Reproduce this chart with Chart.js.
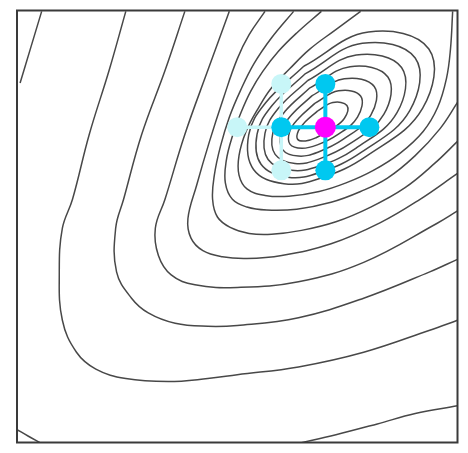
<!DOCTYPE html>
<html>
<head>
<meta charset="utf-8">
<script src="https://cdn.jsdelivr.net/npm/chart.js@4/dist/chart.umd.min.js"></script>
<style>
  html, body { margin: 0; padding: 0; background: #fff; }
  canvas { display: block; }
</style>
</head>
<body>
<canvas id="searchgraph" width="468" height="453"></canvas>
<script>
// level curves, plot space is 0..10 on both axes
const ring1 = [[6.82,7.67],[6.55,7.43],[6.39,7.22],[6.37,7.02],[6.55,6.98],[6.80,7.06],[7.12,7.24],[7.43,7.50],[7.49,7.80],[7.17,7.87],[6.82,7.67]];
const ring2 = [[6.76,7.85],[6.39,7.50],[6.19,7.20],[6.20,6.90],[6.47,6.81],[6.82,6.89],[7.27,7.12],[7.73,7.53],[7.80,8.02],[7.30,8.14],[6.76,7.85]];
const ring3 = [[6.70,8.03],[6.23,7.58],[6.00,7.19],[6.03,6.78],[6.39,6.63],[6.83,6.72],[7.41,7.02],[8.03,7.57],[8.11,8.24],[7.43,8.42],[6.70,8.03]];
const ring4 = [[6.65,8.21],[6.08,7.66],[5.81,7.18],[5.86,6.67],[6.31,6.46],[6.85,6.56],[7.55,6.91],[8.33,7.60],[8.42,8.46],[7.56,8.70],[6.65,8.21]];
const ring5 = [[6.60,8.38],[5.93,7.73],[5.63,7.16],[5.70,6.55],[6.23,6.30],[6.86,6.40],[7.69,6.81],[8.63,7.64],[8.73,8.68],[7.70,8.97],[6.60,8.38]];
const ring6 = [[6.55,8.54],[5.79,7.80],[5.45,7.14],[5.54,6.44],[6.15,6.14],[6.87,6.25],[7.82,6.72],[8.92,7.69],[9.04,8.90],[7.84,9.24],[6.55,8.54]];
const ring7 = [[6.51,8.71],[5.64,7.86],[5.26,7.12],[5.37,6.32],[6.06,5.99],[6.87,6.11],[7.95,6.64],[9.21,7.74],[9.35,9.11],[7.98,9.50],[6.51,8.71]];

const arcG = [[7.80,9.98],[7.20,9.53],[6.64,9.10],[6.19,8.65],[5.78,8.21],[5.49,7.76],[5.20,7.20],[5.04,6.64],[5.04,6.19],[5.22,5.87],[5.63,5.72],[6.17,5.70],[6.86,5.81],[7.47,6.01],[8.09,6.30],[8.70,6.70],[9.22,7.20],[9.55,7.76],[9.75,8.43],[9.84,9.10],[9.89,9.98]];
const arcF = [[6.91,9.98],[6.35,9.48],[5.94,9.06],[5.58,8.59],[5.31,8.14],[5.09,7.65],[4.89,7.09],[4.75,6.52],[4.73,6.01],[4.89,5.63],[5.22,5.45],[5.67,5.38],[6.35,5.40],[7.13,5.56],[7.80,5.81],[8.41,6.12],[9.04,6.64],[9.60,7.26],[10.0,7.87]];
const arcE = [[6.28,9.98],[5.78,9.37],[5.38,8.77],[5.07,8.14],[4.82,7.53],[4.62,6.86],[4.48,6.19],[4.44,5.63],[4.55,5.22],[4.84,4.98],[5.27,4.84],[5.78,4.82],[6.46,4.91],[7.24,5.11],[8.03,5.45],[8.81,5.90],[9.48,6.46],[10.0,6.97]];
const arcD = [[5.63,9.98],[5.27,9.44],[5.00,8.88],[4.69,7.98],[4.37,6.97],[4.08,5.96],[3.88,5.18],[3.95,4.73],[4.22,4.44],[4.66,4.30],[5.22,4.26],[6.01,4.33],[7.13,4.60],[8.25,5.09],[9.15,5.63],[10.0,6.23]];
const arcC = [[4.82,9.98],[4.33,8.61],[3.81,7.13],[3.36,5.63],[3.14,4.96],[3.21,4.33],[3.50,3.88],[4.04,3.65],[5.00,3.59],[6.39,3.72],[7.87,4.17],[9.53,5.07],[10.0,5.36]];
const arcB = [[3.81,9.98],[3.36,8.61],[2.83,7.13],[2.42,5.63],[2.24,4.96],[2.26,3.95],[2.60,3.34],[2.98,3.00],[3.59,2.76],[4.33,2.69],[5.00,2.71],[6.39,2.89],[7.87,3.34],[9.37,3.95],[10.0,4.24]];
const arcA = [[2.47,9.98],[2.09,8.61],[1.64,7.13],[1.26,5.63],[1.03,4.96],[0.96,3.95],[1.03,2.83],[1.35,2.09],[1.79,1.70],[2.47,1.48],[3.43,1.41],[4.33,1.48],[5.00,1.57],[6.39,1.75],[7.87,2.09],[9.37,2.60],[10.0,2.83]];
const cornerTopLeft = [[0.56,9.98],[0.30,9.10],[0.07,8.32]];
const cornerBottomLeft = [[0.00,0.30],[0.25,0.15],[0.55,-0.02]];
const cornerBottomRight = [[6.39,-0.02],[7.24,0.18],[8.18,0.43],[9.04,0.67],[10.0,0.85]];

// search pattern: current base point, its four probes, and the previous probes
const basePoint = [[7, 7.3]];
const probes = [[7, 8.3], [8, 7.3], [7, 6.3], [6, 7.3]];
const oldProbes = [[6, 8.3], [5, 7.3], [6, 6.3]];

const contours = [ring1, ring2, ring3, ring4, ring5, ring6, ring7,
    arcG, arcF, arcE, arcD, arcC, arcB, arcA,
    cornerTopLeft, cornerBottomLeft, cornerBottomRight];

const toXY = (list) => list.map(([x, y]) => ({ x: x, y: y }));

const blue = "rgb(0,200,240)";
const paleBlue = "rgb(200,246,248)";

const datasets = contours.map((c) => ({
    data: toXY(c),
    showLine: true,
    borderColor: "rgba(40,40,40,0.85)",
    borderWidth: 1.5,
    pointRadius: 0,
    tension: 0.4,
    fill: false,
    order: 10,
}));

// pale arms from the old base point
datasets.push({
    data: toXY([oldProbes[0], oldProbes[2]]),
    showLine: true, borderColor: paleBlue, borderWidth: 3.5, pointRadius: 0, order: 6,
});
datasets.push({
    data: toXY([oldProbes[1], probes[3]]),
    showLine: true, borderColor: paleBlue, borderWidth: 3.5, pointRadius: 0, order: 6,
});
datasets.push({
    data: toXY(oldProbes),
    pointRadius: 10, backgroundColor: paleBlue, borderWidth: 0, order: 5,
});
// blue cross round the base point
datasets.push({
    data: toXY([probes[0], probes[2]]),
    showLine: true, borderColor: blue, borderWidth: 4, pointRadius: 0, order: 4,
});
datasets.push({
    data: toXY([probes[3], probes[1]]),
    showLine: true, borderColor: blue, borderWidth: 4, pointRadius: 0, order: 4,
});
datasets.push({
    data: toXY(probes),
    pointRadius: 10, backgroundColor: blue, borderWidth: 0, order: 3,
});
datasets.push({
    data: toXY(basePoint),
    pointRadius: 10.5, backgroundColor: "rgb(255,0,255)", borderWidth: 0, order: 1,
});

const frame = {
    id: "frame",
    afterDraw(chart) {
        const { ctx, chartArea } = chart;
        ctx.save();
        ctx.strokeStyle = "#3a3a3a";
        ctx.lineWidth = 2;
        ctx.strokeRect(chartArea.left, chartArea.top,
            chartArea.right - chartArea.left, chartArea.bottom - chartArea.top);
        ctx.restore();
    },
};

const ctx = document.getElementById("searchgraph").getContext("2d");
const chart = new Chart(ctx, {
    type: "scatter",
    data: { datasets: datasets },
    options: {
        responsive: false,
        devicePixelRatio: 1,
        animation: false,
        layout: { padding: { left: 17, top: 6, right: 5, bottom: 2 } },
        plugins: { legend: { display: false }, tooltip: { enabled: false } },
        scales: {
            x: { type: "linear", min: 0, max: 10, display: false },
            y: { type: "linear", min: 0, max: 10, display: false },
        },
    },
    plugins: [frame],
});
</script>
</body>
</html>
